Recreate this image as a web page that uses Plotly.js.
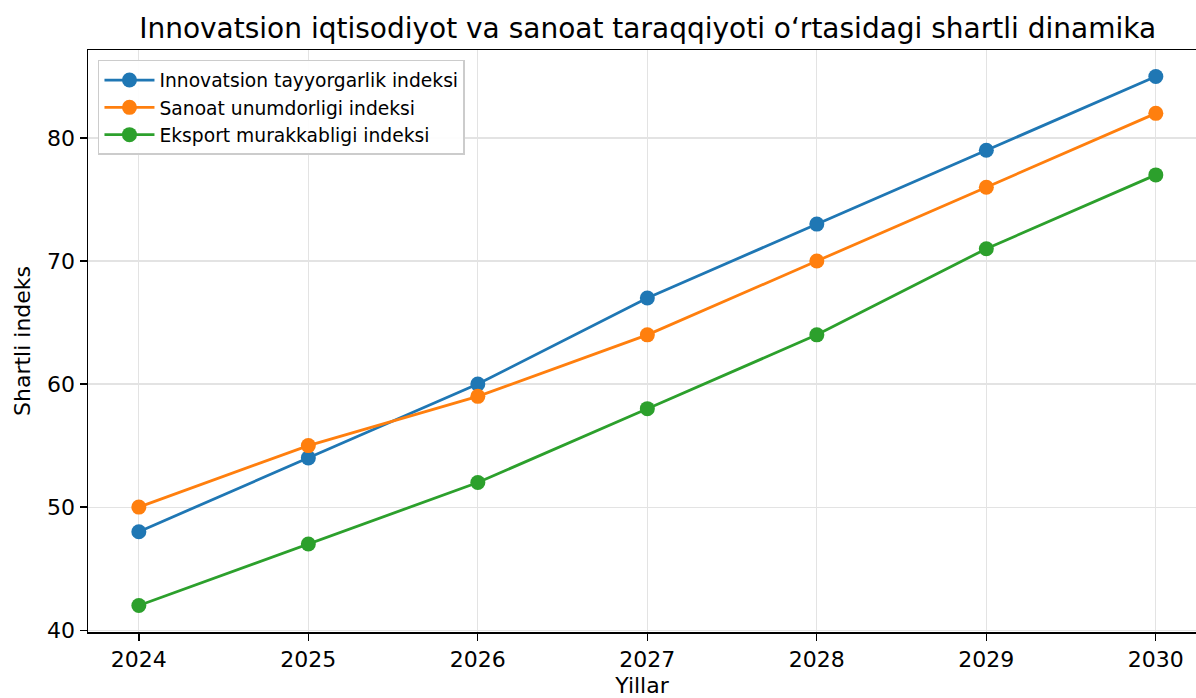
<!DOCTYPE html>
<html>
<head>
<meta charset="utf-8">
<script src="https://cdn.plot.ly/plotly-3.0.1.min.js"></script>
<style>html,body{margin:0;padding:0;background:#fff;}#chart{width:1196px;height:698px;}</style>
</head>
<body>
<div id="chart"></div>
<script>
const years = [2024, 2025, 2026, 2027, 2028, 2029, 2030];
const innovatsion = [48, 54, 60, 67, 73, 79, 85];
const sanoat = [50, 55, 59, 64, 70, 76, 82];
const eksport = [42, 47, 52, 58, 64, 71, 77];
const seriesNames = ["Innovatsion tayyorgarlik indeksi", "Sanoat unumdorligi indeksi", "Eksport murakkabligi indeksi"];
const colors = ["#1f77b4", "#ff7f0e", "#2ca02c"];
const font = "DejaVu Sans, sans-serif";

const traces = [innovatsion, sanoat, eksport].map((vals, i) => ({
  x: years, y: vals, name: seriesNames[i], type: "scatter", mode: "lines+markers",
  line: {color: colors[i], width: 2.8},
  marker: {color: colors[i], size: 15}
}));

const layout = {
  width: 1196, height: 698,
  margin: {l: 88, r: 0, t: 50, b: 66},
  paper_bgcolor: "#fff", plot_bgcolor: "#fff",
  font: {family: font, color: "#000"},
  title: {text: "Innovatsion iqtisodiyot va sanoat taraqqiyoti o‘rtasidagi shartli dinamika",
          font: {size: 28, family: font, color: "#000"}, x: 0.5415, xanchor: "center", y: 0.96, yanchor: "middle", yref: "container"},
  showlegend: true,
  legend: {x: 0.009, y: 0.983, xanchor: "left", yanchor: "top", bgcolor: "rgba(255,255,255,0.9)",
           bordercolor: "#cccccc", borderwidth: 1.5, font: {size: 18.7, family: font}, tracegroupgap: 0, itemwidth: 50},
  xaxis: {range: [2023.7, 2030.237], tickvals: years, ticktext: years.map(String),
          showgrid: true, gridcolor: "#e3e3e3", gridwidth: 1.2, zeroline: false,
          showline: true, linecolor: "#000", linewidth: 1.5, mirror: true,
          ticks: "outside", ticklen: 7, tickwidth: 1.3, tickcolor: "#000",
          tickfont: {size: 22, family: font},
          title: {text: "Yillar", font: {size: 22, family: font}, standoff: 8}},
  yaxis: {range: [39.85, 87.15], tickvals: [40, 50, 60, 70, 80],
          showgrid: true, gridcolor: "#e3e3e3", gridwidth: 1.2, zeroline: false,
          showline: true, linecolor: "#000", linewidth: 1.5,
          ticks: "outside", ticklen: 7, tickwidth: 1.3, tickcolor: "#000",
          tickfont: {size: 22, family: font},
          title: {text: "Shartli indeks", font: {size: 22, family: font}, standoff: 10}}
};

Plotly.newPlot("chart", traces, layout, {displayModeBar: false, staticPlot: true});
</script>
</body>
</html>
